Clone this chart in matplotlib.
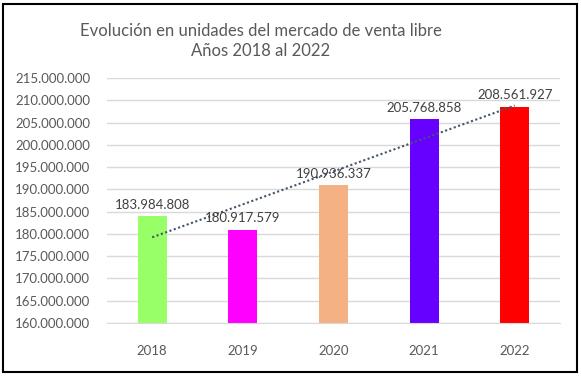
import numpy as np
import matplotlib.pyplot as plt
from matplotlib.patches import Rectangle

years = ['2018', '2019', '2020', '2021', '2022']
units = [183984808, 180917579, 190936337, 205768858, 208561927]
colors = ['#99FF66', '#FF00FF', '#F4B183', '#6600FF', '#FF0000']


def fmt(v):
    return f'{v:,.0f}'.replace(',', '.')


plt.rcParams['font.family'] = ['Lato', 'DejaVu Sans']

fig = plt.figure(figsize=(5.81, 3.79), dpi=100)
ax = fig.add_axes([0.184, 0.148, 0.78, 0.646])

x = np.arange(len(years))
bars = ax.bar(x, units, width=0.32, color=colors, zorder=2)

for xi, v in zip(x, units):
    ax.annotate(fmt(v), (xi, v), xytext=(0, 4), textcoords='offset points',
                ha='center', va='bottom', fontsize=9.5, color='#404040', zorder=4)

# linear trend line
k, b = np.polyfit(x, units, 1)
ax.plot(x, k * x + b, linestyle=(0, (1, 1.2)), color='#44546A', linewidth=1.5, zorder=3)

ax.set_ylim(160000000, 215000000)
ax.set_yticks(np.arange(160000000, 215000001, 5000000))
ax.set_yticklabels([fmt(t) for t in ax.get_yticks()])
ax.set_xlim(-0.5, len(years) - 0.5)
ax.set_xticks(x)
ax.set_xticklabels(years)
ax.tick_params(axis='both', length=0, labelsize=9.5, labelcolor='#595959')
ax.tick_params(axis='x', pad=16)
ax.tick_params(axis='y', pad=12)
ax.grid(axis='y', color='#D9D9D9', linewidth=1, zorder=0)
for s in ax.spines.values():
    s.set_visible(False)
ax.spines['bottom'].set_visible(True)
ax.spines['bottom'].set_color('#D9D9D9')

fig.text(0.449, 0.893, 'Evolución en unidades del mercado de venta libre\nAños 2018 al 2022',
         ha='center', va='center', fontsize=12, color='#595959', linespacing=1.3)

fig.patches.append(Rectangle((0.005, 0.018), 0.988, 0.972, transform=fig.transFigure,
                             fill=False, edgecolor='black', linewidth=1.5))

fig.savefig('out.png', dpi=100)
